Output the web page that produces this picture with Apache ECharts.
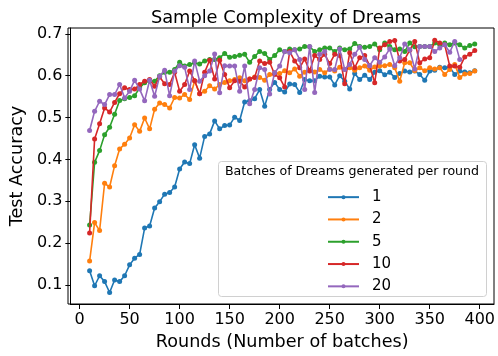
<!DOCTYPE html>
<html>
<head>
<meta charset="utf-8">
<script src="https://cdn.jsdelivr.net/npm/echarts@6/dist/echarts.min.js"></script>
<style>
  html, body { margin: 0; padding: 0; background: #fff; }
  #chart { width: 498px; height: 356px; }
</style>
</head>
<body>
<div id="chart"></div>
<script>
// rounds: 10, 15, ..., 395
var rounds = [];
for (var r = 10; r <= 395; r += 5) rounds.push(r);

var xTicks = [0, 50, 100, 150, 200, 250, 300, 350, 400];
var yTicks = [0.1, 0.2, 0.3, 0.4, 0.5, 0.6, 0.7];
var seriesNames = ['1', '2', '5', '10', '20'];

var acc1 = [0.134, 0.098, 0.122, 0.108, 0.082, 0.112, 0.108, 0.122, 0.148, 0.164,
    0.173, 0.236, 0.241, 0.284, 0.299, 0.317, 0.321, 0.334, 0.377, 0.394,
    0.390, 0.435, 0.403, 0.455, 0.461, 0.492, 0.473, 0.481, 0.482, 0.501,
    0.493, 0.537, 0.540, 0.545, 0.567, 0.527, 0.567, 0.584, 0.567, 0.561,
    0.580, 0.579, 0.560, 0.591, 0.588, 0.588, 0.599, 0.597, 0.597, 0.578,
    0.600, 0.587, 0.568, 0.605, 0.591, 0.601, 0.591, 0.608, 0.612, 0.602,
    0.608, 0.596, 0.605, 0.611, 0.609, 0.611, 0.603, 0.589, 0.611, 0.613,
    0.620, 0.619, 0.620, 0.603, 0.611, 0.609, 0.607, 0.612];
var acc2 = [0.157, 0.249, 0.230, 0.343, 0.334, 0.385, 0.425, 0.436, 0.451, 0.483,
    0.467, 0.499, 0.473, 0.520, 0.535, 0.531, 0.523, 0.548, 0.547, 0.555,
    0.543, 0.588, 0.557, 0.563, 0.576, 0.568, 0.579, 0.584, 0.588, 0.591,
    0.595, 0.588, 0.592, 0.597, 0.596, 0.589, 0.603, 0.607, 0.605, 0.612,
    0.607, 0.616, 0.599, 0.608, 0.612, 0.609, 0.615, 0.607, 0.616, 0.611,
    0.620, 0.615, 0.619, 0.613, 0.619, 0.623, 0.613, 0.621, 0.623, 0.624,
    0.627, 0.619, 0.587, 0.631, 0.631, 0.612, 0.619, 0.612, 0.619, 0.616,
    0.619, 0.603, 0.615, 0.627, 0.596, 0.604, 0.605, 0.611];
var acc5 = [0.243, 0.393, 0.421, 0.459, 0.477, 0.508, 0.541, 0.545, 0.548, 0.552,
    0.571, 0.583, 0.588, 0.587, 0.600, 0.608, 0.608, 0.615, 0.632, 0.623,
    0.627, 0.631, 0.628, 0.635, 0.639, 0.639, 0.643, 0.653, 0.644, 0.646,
    0.649, 0.651, 0.632, 0.646, 0.658, 0.653, 0.639, 0.648, 0.662, 0.658,
    0.664, 0.662, 0.664, 0.670, 0.669, 0.658, 0.662, 0.666, 0.666, 0.658,
    0.666, 0.662, 0.664, 0.677, 0.670, 0.668, 0.670, 0.676, 0.662, 0.678,
    0.670, 0.662, 0.664, 0.658, 0.678, 0.669, 0.670, 0.670, 0.670, 0.678,
    0.674, 0.678, 0.674, 0.678, 0.674, 0.666, 0.672, 0.676];
var acc10 = [0.224, 0.449, 0.485, 0.523, 0.513, 0.536, 0.557, 0.571, 0.567, 0.568,
    0.579, 0.587, 0.591, 0.575, 0.597, 0.581, 0.579, 0.608, 0.563, 0.579,
    0.611, 0.588, 0.557, 0.608, 0.637, 0.592, 0.637, 0.603, 0.571, 0.588,
    0.587, 0.573, 0.592, 0.596, 0.635, 0.629, 0.632, 0.603, 0.595, 0.573,
    0.658, 0.635, 0.619, 0.640, 0.611, 0.648, 0.639, 0.651, 0.629, 0.651,
    0.648, 0.581, 0.655, 0.619, 0.643, 0.648, 0.624, 0.583, 0.666, 0.674,
    0.682, 0.684, 0.635, 0.639, 0.661, 0.682, 0.631, 0.640, 0.643, 0.685,
    0.678, 0.674, 0.623, 0.623, 0.620, 0.645, 0.651, 0.660];
// batch size 20 stops at round 380
var acc20 = [0.469, 0.515, 0.539, 0.531, 0.555, 0.555, 0.579, 0.547, 0.563, 0.589,
    0.568, 0.540, 0.589, 0.551, 0.599, 0.613, 0.552, 0.611, 0.624, 0.620,
    0.567, 0.635, 0.587, 0.600, 0.611, 0.652, 0.559, 0.624, 0.623, 0.623,
    0.563, 0.623, 0.533, 0.567, 0.619, 0.615, 0.556, 0.607, 0.623, 0.658,
    0.655, 0.662, 0.639, 0.567, 0.670, 0.560, 0.651, 0.658, 0.615, 0.615,
    0.664, 0.615, 0.627, 0.651, 0.668, 0.639, 0.624, 0.643, 0.632, 0.645,
    0.664, 0.624, 0.643, 0.676, 0.662, 0.616, 0.670, 0.670, 0.670, 0.658,
    0.666, 0.674, 0.656, 0.682, 0.639];

var colors = ['#1f77b4', '#ff7f0e', '#2ca02c', '#d62728', '#9467bd'];
var allData = [acc1, acc2, acc5, acc10, acc20];

function pairs(ys) {
    return ys.map(function (v, i) { return [rounds[i], v]; });
}

var myChart = echarts.init(document.getElementById('chart'));
var font = 'DejaVu Sans';

var series = allData.map(function (ys, i) {
    return {
        name: seriesNames[i],
        type: 'line',
        data: pairs(ys),
        symbol: 'circle',
        symbolSize: 5,
        showSymbol: true,
        lineStyle: { width: 1.6, color: colors[i] },
        itemStyle: { color: colors[i] },
        emphasis: { disabled: true },
        animation: false,
        z: 2 + i
    };
});

var option = {
    animation: false,
    color: colors,
    title: {
        text: 'Sample Complexity of Dreams',
        left: 281,
        textAlign: 'center',
        top: 4,
        textStyle: { fontFamily: font, fontSize: 17.8, fontWeight: 'normal', color: '#000' }
    },
    grid: { left: 68, right: 4, top: 28, bottom: 52 },
    xAxis: {
        type: 'value',
        min: -9.25,
        max: 414.25,
        name: 'Rounds (Number of batches)',
        nameLocation: 'middle',
        nameGap: 29,
        nameTextStyle: { fontFamily: font, fontSize: 17.6, color: '#000' },
        axisLine: { onZero: false, lineStyle: { color: '#000', width: 1 } },
        axisTick: { show: true, length: 5, inside: false, customValues: xTicks, lineStyle: { color: '#000' } },
        axisLabel: { customValues: xTicks, fontFamily: font, fontSize: 16, color: '#000', margin: 8 },
        splitLine: { show: false }
    },
    yAxis: {
        type: 'value',
        min: 0.0545,
        max: 0.714,
        name: 'Test Accuracy',
        nameLocation: 'middle',
        nameGap: 31,
        nameTextStyle: { fontFamily: font, fontSize: 17.6, color: '#000' },
        axisLine: { show: true, onZero: false, lineStyle: { color: '#000', width: 1 } },
        axisTick: { show: true, length: 5, customValues: yTicks, lineStyle: { color: '#000' } },
        axisLabel: {
            customValues: yTicks, fontFamily: font, fontSize: 16, color: '#000', margin: 8,
            formatter: function (v) { return v.toFixed(1); }
        },
        splitLine: { show: false }
    },
    legend: {
        data: seriesNames,
        orient: 'vertical',
        left: 322,
        top: 181,
        itemWidth: 31,
        itemHeight: 5,
        itemGap: 0,
        z: 30,
        textStyle: { fontFamily: font, fontSize: 15, lineHeight: 22.3, color: '#000', padding: [0, 0, 0, 8] },
        selectedMode: false
    },
    graphic: [
        {
            type: 'rect',
            shape: { x: 68, y: 28, width: 426, height: 276 },
            style: { fill: 'none', stroke: '#000', lineWidth: 1 },
            silent: true,
            z: 10
        },
        {
            type: 'rect',
            shape: { x: 218.5, y: 161.5, width: 268, height: 135, r: 3 },
            style: { fill: 'rgba(255,255,255,0.8)', stroke: '#d0d0d0', lineWidth: 1 },
            silent: true,
            z: 20
        },
        {
            type: 'text',
            x: 352,
            y: 172,
            style: {
                text: 'Batches of Dreams generated per round',
                fontFamily: font, fontSize: 12.6, fill: '#000',
                textAlign: 'center', textVerticalAlign: 'middle'
            },
            silent: true,
            z: 21
        }
    ],
    series: series
};

myChart.setOption(option);
</script>
</body>
</html>
